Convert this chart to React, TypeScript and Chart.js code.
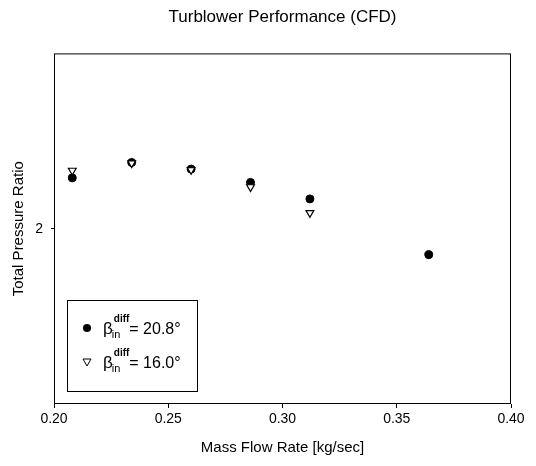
import React, { useEffect, useRef } from "react";
import { Chart, registerables } from "chart.js";

Chart.register(...registerables);

const massFlow20: number[] = [0.208, 0.234, 0.26, 0.286, 0.312, 0.364];
const ratio20: number[] = [2.145, 2.189, 2.17, 2.132, 2.085, 1.926];
const massFlow16: number[] = [0.208, 0.234, 0.26, 0.286, 0.312];
const ratio16: number[] = [2.166, 2.187, 2.168, 2.119, 2.045];
const xTicks: number[] = [0.2, 0.25, 0.3, 0.35, 0.4];
const yTicks: number[] = [2];
const legendValues: string[] = ["20.8°", "16.0°"];

const FONT = "'Liberation Sans', Arial, sans-serif";

const frameAndLegend = {
  id: "frameAndLegend",
  afterDraw(chart: any) {
    const { ctx, chartArea } = chart;
    const { left, top, right, bottom } = chartArea;
    ctx.save();
    ctx.strokeStyle = "#000";
    ctx.lineWidth = 1;
    ctx.strokeRect(left + 0.5, top + 0.5, right - left - 1, bottom - top - 1);

    // legend box
    const lx = left + 13;
    const ly = bottom - 104;
    const lw = 130;
    const lh = 91;
    ctx.fillStyle = "#fff";
    ctx.fillRect(lx, ly, lw, lh);
    ctx.strokeRect(lx + 0.5, ly + 0.5, lw, lh);

    const rows = [ly + 28, ly + 62];
    rows.forEach((cy, i) => {
      const mx = lx + 20;
      ctx.beginPath();
      if (i === 0) {
        ctx.fillStyle = "#000";
        ctx.arc(mx, cy, 4, 0, Math.PI * 2);
        ctx.fill();
      } else {
        ctx.fillStyle = "#fff";
        ctx.strokeStyle = "#000";
        ctx.moveTo(mx - 4, cy - 3);
        ctx.lineTo(mx + 4, cy - 3);
        ctx.lineTo(mx, cy + 4);
        ctx.closePath();
        ctx.fill();
        ctx.stroke();
      }
      ctx.fillStyle = "#000";
      ctx.textBaseline = "alphabetic";
      ctx.textAlign = "left";
      let tx = lx + 36;
      const base = cy + 6;
      ctx.font = `17px ${FONT}`;
      ctx.fillText("β", tx, base);
      const bw = ctx.measureText("β").width;
      ctx.font = `11px ${FONT}`;
      ctx.fillText("in", tx + bw - 1, base + 4);
      const iw = ctx.measureText("in").width;
      ctx.font = `bold 10px ${FONT}`;
      ctx.fillText("diff", tx + bw + 1, base - 12);
      const dw = ctx.measureText("diff").width;
      tx = tx + bw + Math.max(iw, dw) + 1;
      ctx.font = `16px ${FONT}`;
      ctx.fillText("= " + legendValues[i], tx, base);
    });
    ctx.restore();
  },
};

export default function App() {
  const ref = useRef<HTMLCanvasElement | null>(null);

  useEffect(() => {
    document.body.style.margin = "0";
    const canvas = ref.current;
    if (!canvas) return;
    const chart = new Chart(canvas, {
      type: "scatter",
      data: {
        datasets: [
          {
            label: "β_in^diff = " + legendValues[0],
            data: massFlow20.map((x, i) => ({ x, y: ratio20[i] })),
            pointStyle: "circle",
            pointRadius: 4,
            backgroundColor: "#000",
            borderColor: "#000",
            borderWidth: 1,
            order: 2,
          },
          {
            label: "β_in^diff = " + legendValues[1],
            data: massFlow16.map((x, i) => ({ x, y: ratio16[i] })),
            pointStyle: "triangle",
            rotation: 180,
            pointRadius: 4.5,
            backgroundColor: "#fff",
            borderColor: "#000",
            borderWidth: 1.2,
            order: 1,
          },
        ],
      },
      options: {
        animation: false,
        responsive: false,
        layout: { padding: { left: 0, right: 25, top: 0, bottom: 0 } },
        plugins: {
          legend: { display: false },
          tooltip: { enabled: false },
          title: {
            display: true,
            fullSize: false,
            text: "Turblower Performance (CFD)",
            color: "#000",
            font: { family: FONT, size: 17, weight: "normal" },
            padding: { top: 7, bottom: 26 },
          },
        },
        scales: {
          x: {
            type: "linear",
            min: 0.2,
            max: 0.4,
            afterBuildTicks: (scale: any) => {
              scale.ticks = xTicks.map((v) => ({ value: v }));
            },
            afterFit: (scale: any) => {
              scale.height = 62;
            },
            ticks: {
              color: "#000",
              font: { family: FONT, size: 14 },
              padding: 3,
              maxRotation: 0,
              callback: (v: any) => Number(v).toFixed(2),
            },
            grid: {
              drawOnChartArea: false,
              drawTicks: true,
              tickLength: 4,
              color: "#000",
            },
            border: { display: false },
            title: {
              display: true,
              text: "Mass Flow Rate [kg/sec]",
              color: "#000",
              font: { family: FONT, size: 15 },
              padding: { top: 0, bottom: 9 },
            },
          },
          y: {
            type: "linear",
            min: 1.5,
            max: 2.5,
            afterBuildTicks: (scale: any) => {
              scale.ticks = yTicks.map((v) => ({ value: v }));
            },
            afterFit: (scale: any) => {
              scale.width = 54;
            },
            ticks: {
              color: "#000",
              font: { family: FONT, size: 14 },
              padding: 8,
              callback: (v: any) => String(v),
            },
            grid: {
              drawOnChartArea: false,
              drawTicks: true,
              tickLength: 3,
              color: "#000",
            },
            border: { display: false },
            title: {
              display: true,
              text: "Total Pressure Ratio",
              color: "#000",
              font: { family: FONT, size: 15 },
              padding: { top: 10, bottom: 0 },
            },
          },
        },
      },
      plugins: [frameAndLegend],
    });
    return () => chart.destroy();
  }, []);

  return (
    <div style={{ width: 536, height: 466, background: "#fff" }}>
      <canvas ref={ref} width={536} height={466} />
    </div>
  );
}
